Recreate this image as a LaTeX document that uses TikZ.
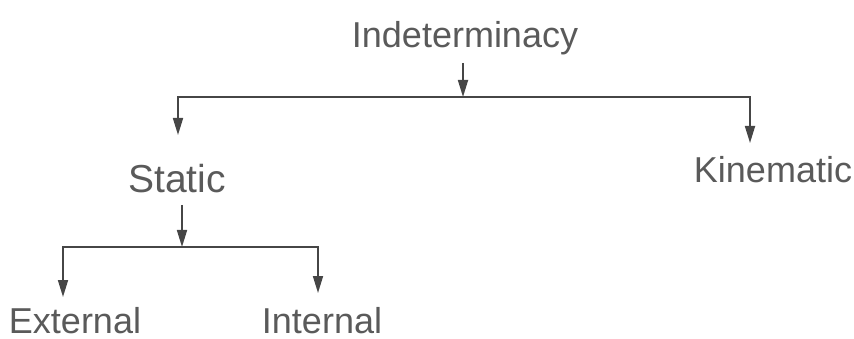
\documentclass[tikz,border=0pt]{standalone}
\usepackage{fontspec}
\setmainfont{Liberation Sans}
\usetikzlibrary{arrows.meta}
\definecolor{ink}{HTML}{464646}
\definecolor{txt}{HTML}{5A5A5A}
\begin{document}
\begin{tikzpicture}[x=1pt,y=-1pt,
  lbl/.style={anchor=base,inner sep=0pt,text=txt,font=\fontsize{36}{40}\selectfont},
  conn/.style={draw=ink,line width=1.7pt},
  arr/.style={conn,-{Triangle[length=17pt,width=10pt]}}]
\useasboundingbox (0,0) rectangle (854,339);
\node[lbl] (I) at (465,48) {Indeterminacy};
\node[lbl,font=\fontsize{39}{42}\selectfont] (S) at (177,193) {Static};
\node[lbl] (K) at (773,183) {Kinematic};
\node[lbl] (E) at (75,333) {External};
\node[lbl] (N) at (322,333) {Internal};
% junctions and arrow ends
\coordinate (iS) at (463,63);
\coordinate (j1) at (463,97);
\coordinate (tS) at (178,135);
\coordinate (tK) at (750,143);
\coordinate (sS) at (182,205);
\coordinate (j2) at (182,247);
\coordinate (tE) at (63,297);
\coordinate (tN) at (318,293);
\draw[arr] (iS) -- (j1);
\draw[arr] (j1) -| (tS);
\draw[arr] (j1) -| (tK);
\draw[arr] (sS) -- (j2);
\draw[arr] (j2) -| (tE);
\draw[arr] (j2) -| (tN);
\end{tikzpicture}
\end{document}
